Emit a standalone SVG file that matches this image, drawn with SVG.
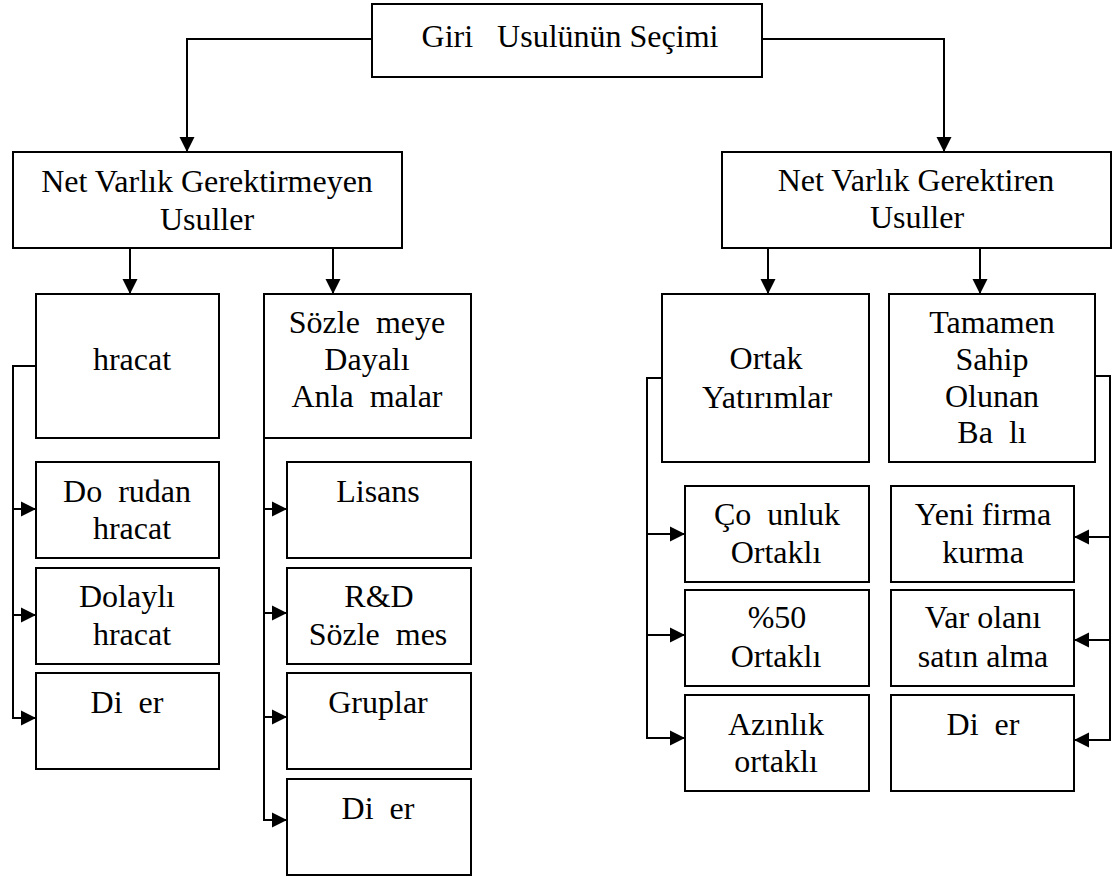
<svg xmlns="http://www.w3.org/2000/svg" width="1113" height="877" viewBox="0 0 1113 877">
<style>
rect{fill:#fff;stroke:#000;stroke-width:2}
text{font-family:'Liberation Serif','Times New Roman',serif;font-size:32px;fill:#000;text-anchor:middle;white-space:pre}
.c path{fill:none;stroke:#000;stroke-width:2}
</style>
<defs>
<marker id="ah" markerUnits="userSpaceOnUse" markerWidth="16" markerHeight="16" refX="15" refY="8" orient="auto">
<path d="M0,0.5 L15,8 L0,15.5 Z" fill="#000"/>
</marker>
</defs>
<g class="c" id="connectors">
<path d="M372,39 H187 V152" marker-end="url(#ah)"/>
<path d="M762,39 H944 V152" marker-end="url(#ah)"/>
<path d="M130,248 V294" marker-end="url(#ah)"/>
<path d="M333,245 V294" marker-end="url(#ah)"/>
<path d="M768,248 V294" marker-end="url(#ah)"/>
<path d="M980,248 V294" marker-end="url(#ah)"/>
<path d="M36,366 H13 V718 H36" marker-end="url(#ah)"/>
<path d="M13,509 H36" marker-end="url(#ah)"/>
<path d="M13,615 H36" marker-end="url(#ah)"/>
<path d="M264,438 V820 H287" marker-end="url(#ah)"/>
<path d="M264,509 H287" marker-end="url(#ah)"/>
<path d="M264,613 H287" marker-end="url(#ah)"/>
<path d="M264,717 H287" marker-end="url(#ah)"/>
<path d="M662,378 H647 V738 H685" marker-end="url(#ah)"/>
<path d="M647,534 H685" marker-end="url(#ah)"/>
<path d="M647,635 H685" marker-end="url(#ah)"/>
<path d="M1095,376 H1110 V740 H1074" marker-end="url(#ah)"/>
<path d="M1110,537 H1074" marker-end="url(#ah)"/>
<path d="M1110,640 H1074" marker-end="url(#ah)"/>
</g>
<g id="top"><rect x="372" y="4" width="390" height="73"/><text x="570" y="47">Giri   Usulünün Seçimi</text></g>
<g id="left-node"><rect x="13" y="152" width="389" height="96"/><text x="207" y="192">Net Varlık Gerektirmeyen</text><text x="207" y="230">Usuller</text></g>
<g id="right-node"><rect x="722" y="152" width="389" height="96"/><text x="916" y="191">Net Varlık Gerektiren</text><text x="917" y="228">Usuller</text></g>
<g id="ihracat"><rect x="36" y="294" width="183" height="144"/><text x="132" y="370">hracat</text></g>
<g id="sozlesmeye"><rect x="264" y="294" width="207" height="144"/><text x="367" y="333">Sözle  meye</text><text x="367" y="370">Dayalı</text><text x="367" y="407">Anla  malar</text></g>
<g id="dogrudan"><rect x="36" y="462" width="183" height="96"/><text x="127" y="502">Do  rudan</text><text x="132" y="539">hracat</text></g>
<g id="dolayli"><rect x="36" y="568" width="183" height="96"/><text x="127" y="607">Dolaylı</text><text x="132" y="645">hracat</text></g>
<g id="diger1"><rect x="36" y="673" width="183" height="96"/><text x="127" y="713">Di  er</text></g>
<g id="lisans"><rect x="287" y="462" width="184" height="96"/><text x="378" y="502">Lisans</text></g>
<g id="rd"><rect x="287" y="568" width="184" height="96"/><text x="379" y="607">R&amp;D</text><text x="378" y="645">Sözle  mes</text></g>
<g id="gruplar"><rect x="287" y="673" width="184" height="96"/><text x="378" y="713">Gruplar</text></g>
<g id="diger2"><rect x="287" y="779" width="184" height="96"/><text x="378" y="819">Di  er</text></g>
<g id="ortak"><rect x="662" y="294" width="207" height="168"/><text x="766" y="369">Ortak</text><text x="767" y="408">Yatırımlar</text></g>
<g id="tamamen"><rect x="889" y="294" width="206" height="168"/><text x="992" y="333">Tamamen</text><text x="992" y="370">Sahip</text><text x="992" y="407">Olunan</text><text x="992" y="443">Ba  lı</text></g>
<g id="cogunluk"><rect x="685" y="486" width="184" height="96"/><text x="777" y="525">Ço  unluk</text><text x="776" y="563">Ortaklı</text></g>
<g id="yuzde50"><rect x="685" y="590" width="184" height="96"/><text x="777" y="628">%50</text><text x="776" y="667">Ortaklı</text></g>
<g id="azinlik"><rect x="685" y="695" width="184" height="96"/><text x="776" y="735">Azınlık</text><text x="776" y="772">ortaklı</text></g>
<g id="yeni"><rect x="891" y="486" width="183" height="96"/><text x="983" y="525">Yeni firma</text><text x="983" y="563">kurma</text></g>
<g id="varolan"><rect x="891" y="590" width="183" height="96"/><text x="983" y="628">Var olanı</text><text x="983" y="667">satın alma</text></g>
<g id="diger3"><rect x="891" y="695" width="183" height="96"/><text x="983" y="735">Di  er</text></g>
</svg>
